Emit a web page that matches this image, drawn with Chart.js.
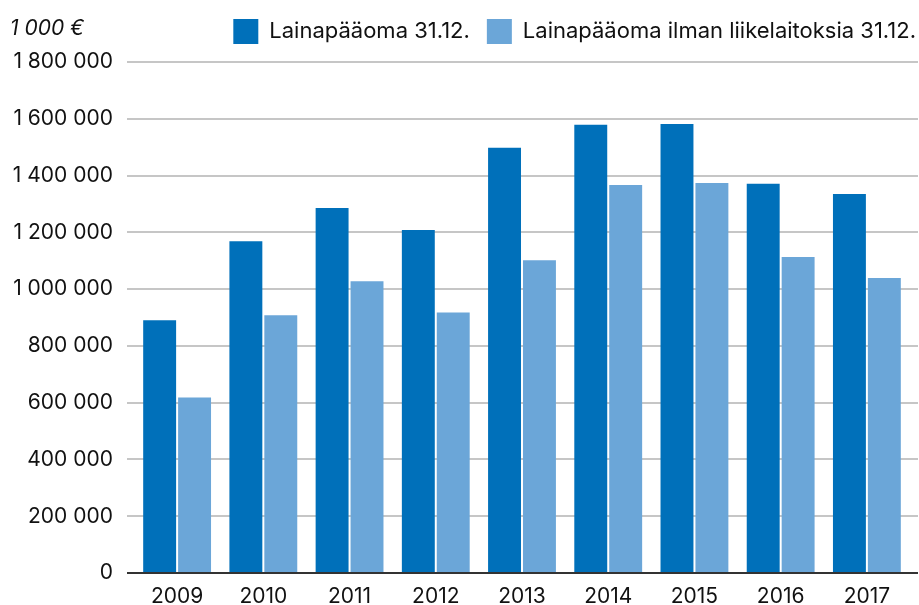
<!DOCTYPE html>
<html>
<head>
<meta charset="utf-8">
<script src="https://cdn.jsdelivr.net/npm/chart.js@4"></script>
<style>
  html, body { margin: 0; padding: 0; background: #fff; }
  #wrap { position: relative; width: 919px; height: 605px; }
  #unit {
    position: absolute; left: 10px; top: 15px;
    font: italic 21px Inter, "Noto Sans", sans-serif; color: #111;
  }
</style>
</head>
<body>
<div id="wrap">
  <canvas id="loanChart" width="919" height="605"></canvas>
  <div id="unit">1 000 €</div>
</div>
<script>
// Vuodet ja sarjat (1 000 €)
const years = ['2009', '2010', '2011', '2012', '2013', '2014', '2015', '2016', '2017'];
const lainapaaoma = [890000, 1169000, 1286000, 1208000, 1498000, 1579000, 1582000, 1371000, 1335000];
const ilmanLiikelaitoksia = [618000, 908000, 1028000, 918000, 1102000, 1367000, 1374000, 1113000, 1039000];
const seriesNames = ['Lainapääoma 31.12.', 'Lainapääoma ilman liikelaitoksia 31.12.'];

const FONT = 'Inter, "Noto Sans", sans-serif';
const gridColor = (c) => (c.tick && c.tick.value === 0 ? '#333333' : '#c6c6c6');

// muotoilu: 1 800 000
function fmt(v) {
  return String(v).replace(/\B(?=(\d{3})+(?!\d))/g, ' ');
}

// siirretään selitettä hieman oikealle (viimeisen kohdan jälkeinen väli pois)
const legendShift = {
  id: 'legendShift',
  afterLayout(chart) {
    if (chart.legend) {
      chart.legend.left += 15;
      chart.legend.right += 15;
    }
  }
};

const ctx = document.getElementById('loanChart').getContext('2d');
new Chart(ctx, {
  type: 'bar',
  data: {
    labels: years,
    datasets: [
      {
        label: seriesNames[0],
        data: lainapaaoma,
        backgroundColor: '#0070BA',
        categoryPercentage: 0.81,
        barPercentage: 0.943
      },
      {
        label: seriesNames[1],
        data: ilmanLiikelaitoksia,
        backgroundColor: '#6BA6D8',
        categoryPercentage: 0.81,
        barPercentage: 0.943
      }
    ]
  },
  options: {
    responsive: false,
    animation: false,
    layout: { padding: { left: 0, right: 1, top: 2, bottom: 0 } },
    plugins: {
      tooltip: { enabled: false },
      legend: {
        position: 'top',
        align: 'end',
        labels: {
          boxWidth: 25,
          boxHeight: 25,
          padding: 17,
          color: '#111',
          font: { family: FONT, size: 22 }
        }
      }
    },
    scales: {
      x: {
        grid: { display: false },
        border: { display: true, color: '#333333', width: 2 },
        ticks: { color: '#111', padding: 3, font: { family: FONT, size: 21 } },
        afterFit: (s) => { s.height = 32; }
      },
      // tyhjä tila selitteen ja kuvaajan väliin
      xTop: {
        type: 'category',
        position: 'top',
        grid: { display: false },
        border: { display: false },
        ticks: { display: false },
        afterFit: (s) => { s.height = 8; }
      },
      y: {
        min: 0,
        max: 1800000,
        ticks: {
          stepSize: 200000,
          padding: 14,
          color: '#111',
          font: { family: FONT, size: 21 },
          callback: (v) => fmt(v)
        },
        grid: { color: gridColor, lineWidth: 2, tickLength: 7 },
        border: { display: false },
        afterFit: (s) => { s.width = 134; }
      },
      yRight: {
        position: 'right',
        min: 0,
        max: 1800000,
        ticks: { display: false, stepSize: 200000 },
        grid: { drawOnChartArea: false, color: gridColor, lineWidth: 2, tickLength: 8 },
        border: { display: false },
        afterFit: (s) => { s.width = 8; }
      }
    }
  },
  plugins: [legendShift]
});
</script>
</body>
</html>
